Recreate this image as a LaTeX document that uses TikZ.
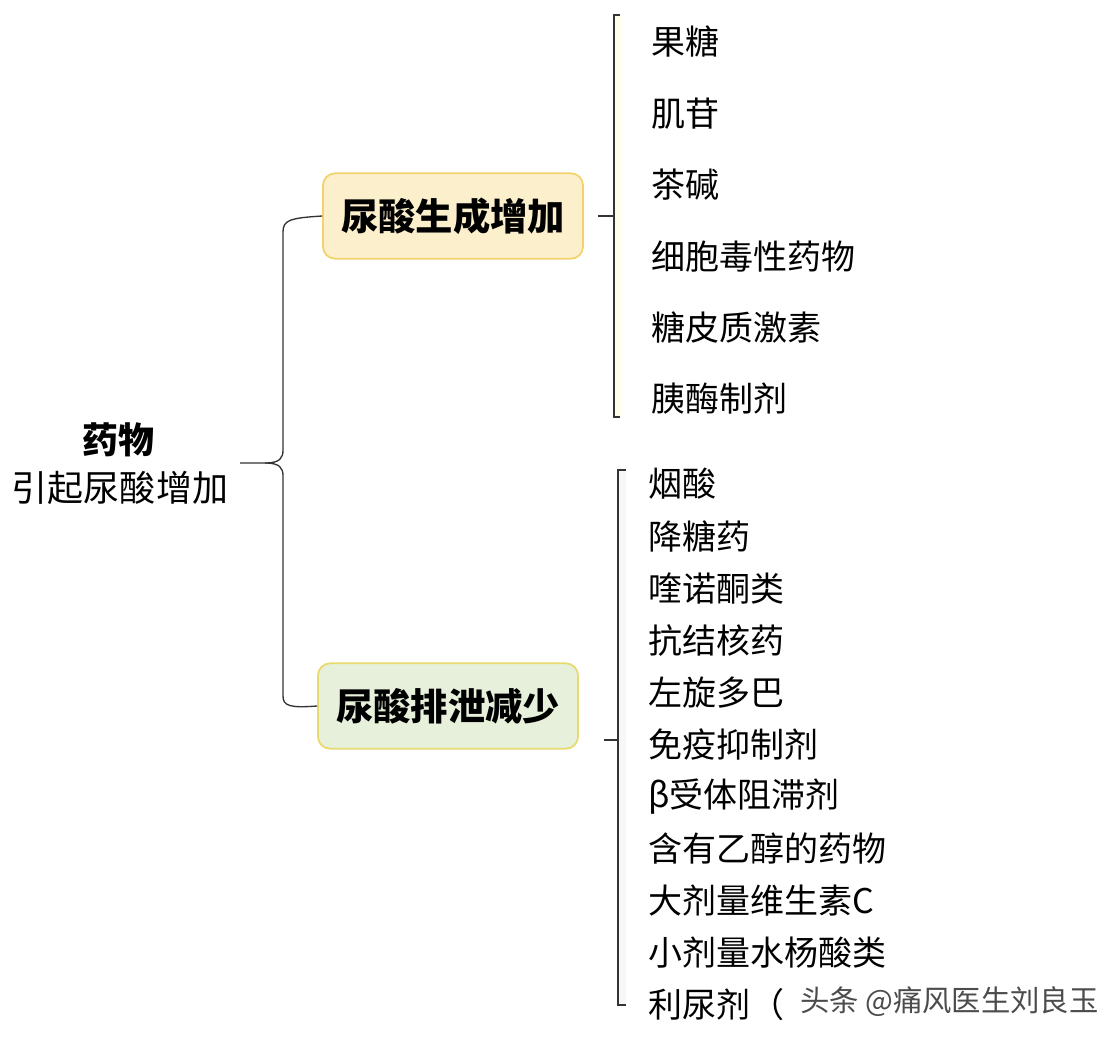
\documentclass[tikz,border=0pt]{standalone}
\usepackage{fontspec}
\setmainfont{Noto Sans CJK SC}
\begin{document}
\begin{tikzpicture}[x=0.75pt,y=-0.75pt,
  item/.style={anchor=west,inner sep=0pt,font=\fontsize{25.5}{30}\selectfont},
  cat/.style={rounded corners=9pt,line width=1.3pt,minimum width=195pt,minimum height=64pt,font=\fontsize{28}{32}\selectfont\bfseries},
  br/.style={line width=1pt,draw=black!80}]
\useasboundingbox (0,0) rectangle (1112,1040);
\fill[white] (0,0) rectangle (1112,1040);
\node[font=\fontsize{27}{30}\selectfont\bfseries] (r1) at (118,440) {药物};
\node[font=\fontsize{27}{30}\selectfont] (r2) at (120,488) {引起尿酸增加};
\coordinate (rr) at (240,463);
\node[cat,draw={rgb,255:red,242;green,211;blue,107},fill={rgb,255:red,252;green,240;blue,204}] (b1) at (453,216) {尿酸生成增加};
\node[cat,draw={rgb,255:red,232;green,218;blue,110},fill={rgb,255:red,230;green,240;blue,218}] (b2) at (448,706) {尿酸排泄减少};
\draw[br] (rr) -- (265,463) .. controls (280,463) and (283,458) .. (283,450) -- (283,232) .. controls (283,220) and (290,218) .. (b1.west);
\draw[br] (265,463) .. controls (280,463) and (283,468) .. (283,476) -- (283,696) .. controls (283,706) and (290,708) .. (b2.west);
% bracket 1
\fill[yellow!8] (614,15) rectangle (622,417);
\draw[br] (b1.east)++(14,0) coordinate (c1) -- (614,216);
\draw[br] (620,15) -- (614,15) -- (614,417) -- (620,417);
\foreach \t [count=\i] in {果糖,肌苷,茶碱,细胞毒性药物,糖皮质激素,胰酶制剂}
  \node[item] (a\i) at (651,{42+(\i-1)*71.4}) {\t};
% bracket 2
\fill[black!3] (618,470) rectangle (626,1005);
\draw[br] (604,740) coordinate (c2) -- (618,740);
\draw[br] (626,470) -- (618,470) -- (618,1005) -- (626,1005);
\foreach \t [count=\i] in {烟酸,降糖药,喹诺酮类,抗结核药,左旋多巴,免疫抑制剂,β受体阻滞剂,含有乙醇的药物,大剂量维生素C,小剂量水杨酸类,利尿剂（}
  \node[item] (d\i) at (648,{484+(\i-1)*52.1}) {\t};
\node[anchor=west,inner sep=0pt,font=\fontsize{22}{26}\selectfont,text=black!70] (wm) at (800,1002) {头条 @痛风医生刘良玉};
\end{tikzpicture}
\end{document}
